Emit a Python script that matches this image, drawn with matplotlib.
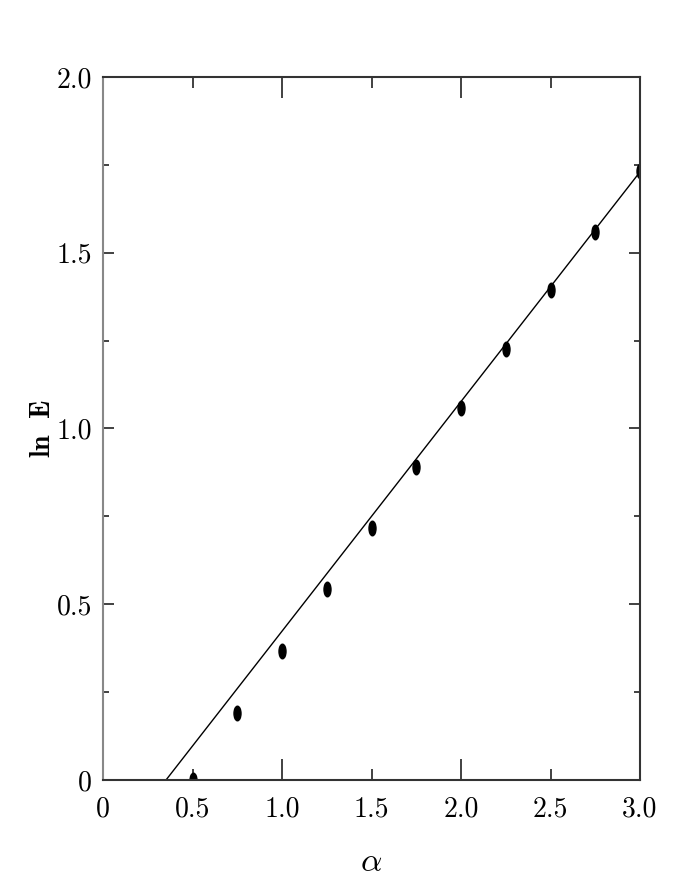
import numpy as np
import matplotlib
matplotlib.use("Agg")
import matplotlib.pyplot as plt
from matplotlib.path import Path
from matplotlib.transforms import Affine2D

# measured points (alpha, ln E)
alpha = [0.5, 0.75, 1.0, 1.25, 1.5, 1.75, 2.0, 2.25, 2.5, 2.75, 3.0]
ln_e = [0.0, 0.19, 0.367, 0.543, 0.717, 0.89, 1.058, 1.226, 1.394, 1.559, 1.733]

# straight fit line, read from its two ends
fit_alpha = [0.352, 3.0]
fit_ln_e = [0.0, 1.730]

x_ticks = [0.0, 0.5, 1.0, 1.5, 2.0, 2.5, 3.0]
x_labels = ['0', '0.5', '1.0', '1.5', '2.0', '2.5', '3.0']
y_ticks = [0.0, 0.5, 1.0, 1.5, 2.0]
y_labels = ['0', '0.5', '1.0', '1.5', '2.0']

plt.rcParams['mathtext.fontset'] = 'cm'
ink = '#333333'

fig = plt.figure(figsize=(6.92, 8.96), dpi=100)
ax = fig.add_axes([103 / 692, 1 - 780 / 896, 537 / 692, 703 / 896])

# tall narrow dot, like the stretched original
dot = Path.unit_circle().transformed(Affine2D().scale(0.48, 1.0))

ax.plot(fit_alpha, fit_ln_e, '-', color='black', lw=1.0)
ax.plot(alpha, ln_e, linestyle='none', marker=dot, markersize=10.5,
        color='black')

ax.set_xlim(0, 3.0)
ax.set_ylim(0, 2.0)

major_x = [t for t in x_ticks if t % 1.0 == 0]
minor_x = [t for t in x_ticks if t % 1.0 != 0]
ax.set_xticks(major_x)
ax.set_xticklabels([l for t, l in zip(x_ticks, x_labels) if t % 1.0 == 0])
ax.set_xticks(minor_x, minor=True)
ax.set_xticklabels([l for t, l in zip(x_ticks, x_labels) if t % 1.0 != 0],
                   minor=True)
ax.set_yticks(y_ticks)
ax.set_yticklabels(y_labels)
ax.set_yticks(np.arange(0.25, 2.0, 0.5), minor=True)

for lab in ax.get_xticklabels(which='both') + ax.get_yticklabels():
    lab.set_fontfamily('cmr10')
    lab.set_fontsize(20)

ax.tick_params(axis='x', which='major', direction='in', top=True,
               length=15, width=1.3, color=ink, pad=12)
ax.tick_params(axis='x', which='minor', direction='in', top=True,
               length=8, width=1.3, color=ink, pad=12)
ax.tick_params(axis='y', which='major', direction='in', right=True,
               length=8, width=1.3, color=ink, pad=8)
ax.tick_params(axis='y', which='minor', direction='in', right=True,
               length=4, width=1.3, color=ink)

for side, sp in ax.spines.items():
    sp.set_linewidth(1.5)
    sp.set_color('#888888' if side == 'left' else ink)

ax.set_xlabel(r'$\alpha$', fontsize=24)
ax.xaxis.set_label_coords(0.5, -0.092)
ax.set_ylabel(r'$\mathbf{ln\ \ E}$', fontsize=20)
ax.yaxis.set_label_coords(-0.088, 0.5)

fig.savefig('out.png', dpi=100)
